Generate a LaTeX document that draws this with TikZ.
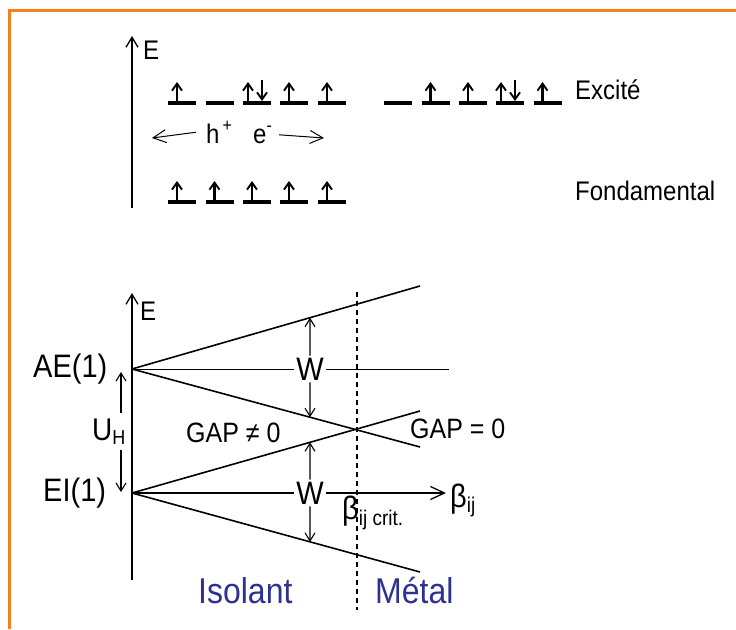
\documentclass[tikz,border=0pt]{standalone}
\usepackage{graphicx}
\usepackage{fontspec}
\setmainfont{Liberation Sans}
\usetikzlibrary{positioning,arrows.meta,calc}

\definecolor{frameorange}{RGB}{245,128,32}
\definecolor{phaseblue}{RGB}{46,49,146}
\newcommand{\tall}[1]{\scalebox{1}[1.12]{#1}}

\begin{document}
\begin{tikzpicture}[
  x=1pt, y=-1pt,
  axis/.style={line width=1.6pt, -{Straight Barb[length=10pt,width=12pt,line width=1.3pt]}},
  band/.style={line width=1.6pt},
  thinline/.style={line width=0.9pt},
  dimarrow/.style={line width=1.1pt, -{Straight Barb[length=8pt,width=10pt,line width=1.1pt]}},
  carrier/.style={line width=1pt, -{Straight Barb[length=13pt,width=13pt,line width=1pt]}},
  spin/.style={line width=2.2pt, -{Straight Barb[length=7pt,width=10pt,line width=1.9pt]}},
  lbl/.style={inner sep=0pt, font=\fontsize{24}{28}\selectfont},
  biglbl/.style={inner sep=0pt, font=\fontsize{29}{33}\selectfont},
  phase/.style={inner sep=0pt, text=phaseblue, font=\fontsize{32}{36}\selectfont},
  nospin/.pic={\draw[line width=4.5pt] (-14,0) -- (14,0);},
  upspin/.pic={\draw[line width=4.5pt] (-14,0) -- (14,0);
    \draw[spin] (-5,-2) -- (-5,-21);},
  pairspin/.pic={\draw[line width=4.5pt] (-14,0) -- (14,0);
    \draw[spin] (-9,-2) -- (-9,-21);
    \draw[spin] (5,-23) -- (5,-2);}
]
  \useasboundingbox (0,0) rectangle (736,629);
  \draw[frameorange, line width=3pt] (9.5,629) -- (9.5,10.5) -- (736,10.5);

  % configurations electroniques
  \coordinate (topbase) at (132,208);
  \coordinate (toptip) at (132,36);
  \draw[axis] (topbase) -- (toptip);
  \node[lbl, anchor=base west] (topE) at (143,59) {\tall{E}};

  \foreach \xc/\sp in {182/upspin, 219.5/nospin, 257/pairspin, 294/upspin, 332/upspin,
                        397.5/nospin, 435.5/upspin, 473/upspin, 510/pairspin, 547.5/upspin}
    \pic at (\xc,103) {\sp};
  \foreach \xc in {182, 219.5, 257, 294, 332}
    \pic at (\xc,202) {upspin};

  \node[lbl, anchor=base west] (excite) at (575,99) {\tall{Excité}};
  \node[lbl, anchor=base west] (fonda) at (575,200) {\tall{Fondamental}};

  \node[lbl, anchor=base west] (hole) at (206,143) {\tall{h\kern3pt\raisebox{10pt}{\fontsize{16}{16}\selectfont +}}};
  \node[lbl, anchor=base west] (elec) at (253,143) {\tall{e\raisebox{10pt}{\fontsize{16}{16}\selectfont -}}};
  \coordinate (holeend) at (152,138);
  \coordinate (elecend) at (324,138);
  \draw[carrier] ([xshift=-10pt]hole.west) -- (holeend);
  \draw[carrier] ([xshift=7pt]elec.east) -- (elecend);

  % diagramme de bandes
  \coordinate (botbase) at (132,580);
  \coordinate (bottip) at (132,293);
  \draw[axis] (botbase) -- (bottip);
  \node[lbl, anchor=base west] (botE) at (140,320) {\tall{E}};

  \coordinate (AE) at (132,369);
  \coordinate (EI) at (132,493);
  \coordinate (AEup) at (420,286);
  \coordinate (AEdown) at (420,447);
  \coordinate (EIup) at (420,411);
  \coordinate (EIdown) at (420,572);
  \draw[band] (AE) -- (AEup);
  \draw[band] (AE) -- (AEdown);
  \draw[band] (EI) -- (EIup);
  \draw[band] (EI) -- (EIdown);

  \node[biglbl, anchor=base west] (AElbl) at (33,377) {\tall{AE(1)}};
  \node[biglbl, anchor=base west] (EIlbl) at (43,501) {\tall{EI(1)}};

  \node[inner sep=2pt, font=\fontsize{29}{33}\selectfont] (W1) at (310,369) {\tall{W}};
  \node[inner sep=2pt, font=\fontsize{29}{33}\selectfont] (W2) at (310,493) {\tall{W}};
  \coordinate (AEend) at (449,369);
  \coordinate (betaend) at (446,493);
  \draw[thinline] (AE) -- (W1.west);
  \draw[thinline] (W1.east) -- (AEend);
  \draw[line width=1.3pt] (EI) -- (W2.west);
  \draw[line width=1.3pt, -{Straight Barb[length=14pt,width=13pt,line width=1.3pt]}] (W2.east) -- (betaend);

  \draw[dimarrow] (W1.north) -- ($(AE)!{178/288}!(AEup)$);
  \draw[dimarrow] (W1.south) -- ($(AE)!{178/288}!(AEdown)$);
  \draw[dimarrow] (W2.north) -- ($(EI)!{178/288}!(EIup)$);
  \draw[dimarrow] (W2.south) -- ($(EI)!{178/288}!(EIdown)$);

  \coordinate (crittop) at (357,292);
  \coordinate (critbot) at (357,610);
  \draw[line width=1.2pt, dash pattern=on 5pt off 4pt] (crittop) -- (critbot);

  \node[inner sep=0pt, font=\fontsize{28}{32}\selectfont, anchor=base west] (UH) at (92,440)
    {\tall{U\raisebox{-4pt}{\fontsize{18}{18}\selectfont H}}};
  \coordinate (UHtop) at (121,372);
  \coordinate (UHbot) at (121,492);
  \draw[dimarrow, shorten <=5pt] (UH.north -| UHtop) -- (UHtop);
  \draw[dimarrow, shorten <=5pt] (UH.south -| UHbot) -- (UHbot);

  \node[inner sep=0pt, font=\fontsize{25}{29}\selectfont, anchor=base west] (gapne) at (186,442) {\tall{GAP ≠ 0}};
  \node[inner sep=0pt, font=\fontsize{25}{29}\selectfont, anchor=base west] (gapeq) at (410,438) {\tall{GAP = 0}};

  \node[inner sep=0pt, font=\fontsize{29}{33}\selectfont, anchor=base west] (betacrit) at (342,519)
    {\tall{β\raisebox{-6pt}{\fontsize{19}{19}\selectfont ij crit.}}};
  \node[inner sep=0pt, font=\fontsize{29}{33}\selectfont, anchor=base west] (beta) at (450,507)
    {\tall{β\raisebox{-5pt}{\fontsize{19}{19}\selectfont ij}}};

  \node[phase, anchor=base west] (isolant) at (198,603) {\tall{Isolant}};
  \node[phase, anchor=base west] (metal) at (375,603) {\tall{Métal}};
\end{tikzpicture}
\end{document}
